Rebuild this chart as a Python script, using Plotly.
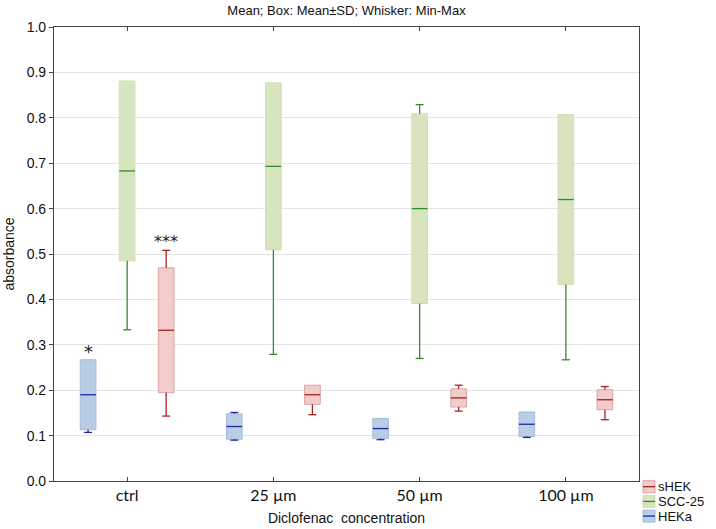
import plotly.graph_objects as go

categories = ["ctrl", "25 µm", "50 µm", "100 µm"]
series = ["HEKa", "SCC-25", "sHEK"]
legend_order = ["sHEK", "SCC-25", "HEKa"]

heka_mean = [0.190, 0.120, 0.1155, 0.125]
heka_sd = [0.077, 0.028, 0.022, 0.027]
heka_min = [0.107, 0.090, 0.091, 0.096]
heka_max = [0.269, 0.151, 0.140, 0.152]

scc_mean = [0.683, 0.693, 0.600, 0.620]
scc_sd = [0.198, 0.184, 0.209, 0.187]
scc_min = [0.333, 0.279, 0.270, 0.267]
scc_max = [0.881, 0.876, 0.829, 0.806]

shek_mean = [0.332, 0.190, 0.183, 0.179]
shek_sd = [0.1375, 0.021, 0.020, 0.022]
shek_min = [0.143, 0.146, 0.154, 0.135]
shek_max = [0.508, 0.211, 0.211, 0.208]

y_ticks = [0.0, 0.1, 0.2, 0.3, 0.4, 0.5, 0.6, 0.7, 0.8, 0.9, 1.0]

styles = {
    "HEKa": dict(off=-0.267, fill="#b9cde5", border="#a3bcdc", line="#1c2a9c"),
    "SCC-25": dict(off=0.0, fill="#d7e4bd", border="#d0dfb3", line="#2e8b2e"),
    "sHEK": dict(off=0.267, fill="#f2cbcb", border="#dca3a3", line="#a02424"),
}
data = {
    "HEKa": (heka_mean, heka_sd, heka_min, heka_max),
    "SCC-25": (scc_mean, scc_sd, scc_min, scc_max),
    "sHEK": (shek_mean, shek_sd, shek_min, shek_max),
}

W, H = 716, 529
ML, MR, MT, MB = 54, 77, 27, 48
PW, PH = W - ML - MR, H - MT - MB

BW = 0.107
CAP = 0.027

fig = go.Figure()
for name in series:
    st = styles[name]
    mean, sd, mn, mx = data[name]
    xs = [i + st["off"] for i in range(len(categories))]
    lo = [m - s for m, s in zip(mean, sd)]
    fig.add_trace(go.Bar(
        x=xs, base=lo, y=[2 * s for s in sd], width=BW,
        marker=dict(color=st["fill"], line=dict(color=st["border"], width=1)),
        name=name, showlegend=False, hoverinfo="skip",
    ))
    lx, ly = [], []
    for x, m, s, a, b in zip(xs, mean, sd, mn, mx):
        bot, top = m - s, m + s
        lx += [x, x, None, x - CAP, x + CAP, None]
        ly += [bot, a, None, a, a, None]
        if b - top > 0.003:
            lx += [x, x, None, x - CAP, x + CAP, None]
            ly += [top, b, None, b, b, None]
        lx += [x - BW / 2, x + BW / 2, None]
        ly += [m, m, None]
    fig.add_trace(go.Scatter(
        x=lx, y=ly, mode="lines", line=dict(color=st["line"], width=1.3),
        name=name, showlegend=False, hoverinfo="skip",
    ))

# significance markers
fig.add_annotation(x=0 + styles["HEKa"]["off"], y=heka_max[0], text="*", showarrow=False,
                   yanchor="bottom", yshift=-5, font=dict(size=18, color="#222", family="DejaVu Sans"))
fig.add_annotation(x=0 + styles["sHEK"]["off"], y=shek_max[0], text="***", showarrow=False,
                   yanchor="bottom", yshift=-3, font=dict(size=16, color="#222", family="DejaVu Sans"))

# manual legend (paper coordinates computed from pixel layout)
def px_x(p):
    return (p - ML) / PW

def px_y(p):
    return (H - MB - p) / PH

leg_y0 = 486.7
leg_dy = 14.7
for k, name in enumerate(legend_order):
    st = styles[name]
    cy = leg_y0 + k * leg_dy
    fig.add_shape(type="rect", xref="paper", yref="paper",
                  x0=px_x(643), x1=px_x(655), y0=px_y(cy - 6), y1=px_y(cy + 6),
                  fillcolor=st["fill"], line=dict(color=st["border"], width=1))
    fig.add_shape(type="line", xref="paper", yref="paper",
                  x0=px_x(643), x1=px_x(655), y0=px_y(cy), y1=px_y(cy),
                  line=dict(color=st["line"], width=1.3))
    fig.add_annotation(xref="paper", yref="paper", x=px_x(657), y=px_y(cy), text=name,
                       showarrow=False, xanchor="left", yanchor="middle", borderpad=0,
                       font=dict(family="Liberation Sans", size=13, color="#111"))

axis_col = "#444444"
fig.update_layout(
    width=W, height=H,
    margin=dict(l=ML, r=MR, t=MT, b=MB, autoexpand=False),
    paper_bgcolor="white", plot_bgcolor="white",
    title=dict(text="Mean; Box: Mean±SD; Whisker: Min-Max", x=(ML + PW / 2) / W, xanchor="center",
               y=1 - 10.5 / H, yanchor="middle", font=dict(family="Liberation Sans", size=13, color="#111")),
    barmode="overlay",
    showlegend=False,
    xaxis=dict(range=[-0.5, 3.5], tickvals=[0, 1, 2, 3], ticktext=categories,
               ticks="inside", ticklen=4, tickcolor=axis_col, showline=True, linecolor=axis_col, linewidth=1.2,
               mirror="ticks", showgrid=False, zeroline=False, automargin=False,
               tickfont=dict(family="Lato", size=16, color="#111"),
               title=dict(text="Diclofenac  concentration", standoff=9,
                          font=dict(family="Liberation Sans", size=14, color="#111"))),
    yaxis=dict(range=[0, 1.0], tickvals=y_ticks, ticktext=[f"{v:.1f}" for v in y_ticks],
               ticks="outside", ticklen=4, tickcolor=axis_col, showline=True, linecolor=axis_col, linewidth=1.2,
               mirror=True, showgrid=True, gridcolor="#e4e4e4", gridwidth=1, zeroline=False, automargin=False,
               tickfont=dict(family="Liberation Sans", size=14, color="#111"),
               title=dict(text="absorbance", standoff=8, font=dict(family="Liberation Sans", size=14, color="#111"))),
    yaxis2=dict(range=[0, 1.0], tickvals=y_ticks, overlaying="y", side="right", anchor="x",
                ticks="inside", ticklen=4, tickcolor=axis_col, showticklabels=False,
                showgrid=False, zeroline=False, showline=False, automargin=False),
)

fig.write_html("out.html", config={"displayModeBar": False},
               post_script="document.body.style.margin='0';")
